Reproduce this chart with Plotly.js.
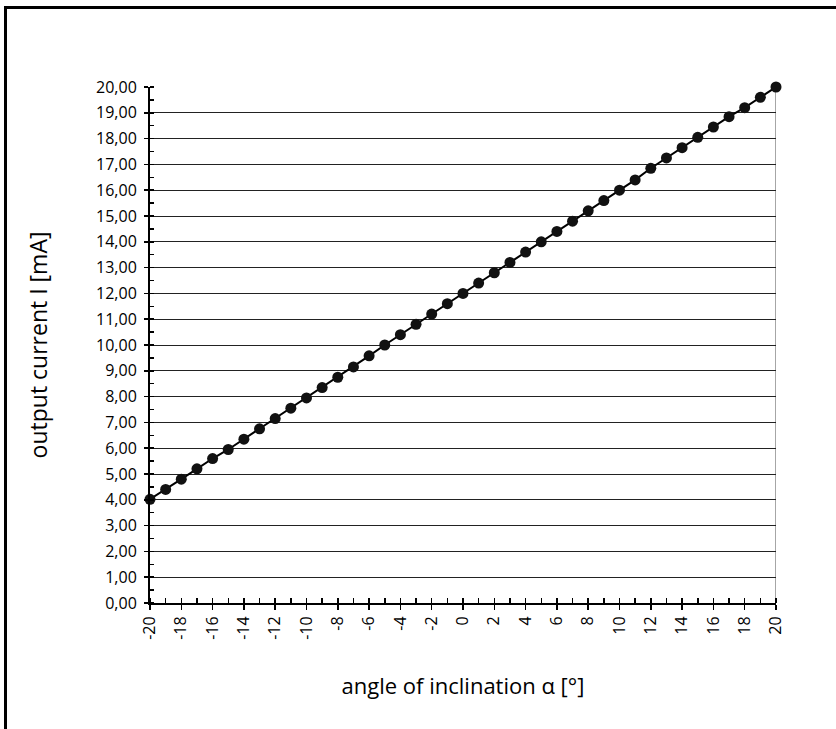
<!DOCTYPE html>
<html>
<head>
<meta charset="utf-8">
<script src="https://cdn.plot.ly/plotly-3.0.1.min.js"></script>
<style>
  html, body { margin: 0; padding: 0; background: #fff; overflow: hidden; }
  #frame { position: absolute; left: 4px; top: 6px; width: 840px; height: 730px;
           border-left: 3px solid #000; border-top: 3px solid #000; }
  #chart { position: absolute; left: 0; top: 0; width: 836px; height: 729px; }
</style>
</head>
<body>
<div id="chart"></div>
<div id="frame"></div>
<script>
const angles = [-20,-19,-18,-17,-16,-15,-14,-13,-12,-11,-10,-9,-8,-7,-6,-5,-4,-3,-2,-1,0,
                1,2,3,4,5,6,7,8,9,10,11,12,13,14,15,16,17,18,19,20];
const currents = [4.02,4.40,4.80,5.20,5.60,5.95,6.35,6.75,7.15,7.55,7.95,8.35,8.75,9.15,9.58,10.00,10.40,10.80,11.20,11.60,12.00,
                  12.40,12.80,13.20,13.60,14.00,14.40,14.80,15.20,15.60,16.00,16.40,16.85,17.25,17.65,18.05,18.45,18.85,19.20,19.60,20.00];
const xTickVals = [-20,-18,-16,-14,-12,-10,-8,-6,-4,-2,0,2,4,6,8,10,12,14,16,18,20];
const xTickText = ['-20','-18','-16','-14','-12','-10','-8','-6','-4','-2','0','2','4','6','8','10','12','14','16','18','20'];
const xTitle = 'angle of inclination α [°]';
const yTitle = 'output current I [mA]';

const font = 'Open Sans, Noto Sans, sans-serif';

const data = [
  {
    x: angles, y: currents, type: 'scatter', mode: 'lines+markers',
    line: {color: '#000', width: 2},
    marker: {color: '#111', size: 11},
    cliponaxis: false,
    hoverinfo: 'skip', showlegend: false
  },
  {
    x: [angles[0], angles[angles.length-1]], y: [0, 0], xaxis: 'x2', yaxis: 'y',
    mode: 'none', type: 'scatter', showlegend: false, hoverinfo: 'skip'
  }
];

const layout = {
  width: 836, height: 729,
  margin: {l: 150, r: 60, t: 87, b: 126},
  paper_bgcolor: '#fff', plot_bgcolor: '#fff',
  separators: ',.',
  font: {family: font, color: '#000'},
  showlegend: false,
  xaxis: {
    range: [-20, 20], tickmode: 'array', tickvals: xTickVals, ticktext: xTickText, tickangle: -90,
    ticks: 'outside', ticklen: 5, tickwidth: 1.5, tickcolor: '#000',
    minor: {dtick: 1, tick0: -20, ticks: 'inside', ticklen: 5, tickwidth: 1.5, tickcolor: '#000', showgrid: false},
    showgrid: false, zeroline: false,
    showline: true, linecolor: '#000', linewidth: 2,
    tickfont: {size: 16, family: font},
    title: {text: xTitle, font: {size: 22, family: font}, standoff: 40},
    automargin: false, fixedrange: true
  },
  xaxis2: {
    overlaying: 'x', matches: 'x', range: [-20, 20], dtick: 1, tick0: -20,
    ticks: 'inside', ticklen: 5, tickwidth: 1.5, tickcolor: '#000',
    showticklabels: false, showgrid: false, zeroline: false, showline: false,
    side: 'bottom', anchor: 'y'
  },
  yaxis: {
    range: [0, 20], dtick: 1, tickformat: '.2f',
    ticks: 'outside', ticklen: 4, tickwidth: 1.5, tickcolor: '#000',
    ticklabelstandoff: 4,
    minor: {dtick: 0.5, ticks: 'inside', ticklen: 4, tickwidth: 1.5, tickcolor: '#000', showgrid: false},
    showgrid: true, gridcolor: '#222', gridwidth: 1,
    zeroline: false, showline: true, linecolor: '#000', linewidth: 2,
    tickfont: {size: 16, family: font},
    title: {text: yTitle, font: {size: 23, family: font}, standoff: 42},
    automargin: false, fixedrange: true
  },
  shapes: [
    {type: 'line', xref: 'x', yref: 'y', x0: 20, x1: 20, y0: 0, y1: 20,
     line: {color: '#888', width: 1.5}, layer: 'below'}
  ]
};

Plotly.newPlot('chart', data, layout, {staticPlot: true, displayModeBar: false});
</script>
</body>
</html>
